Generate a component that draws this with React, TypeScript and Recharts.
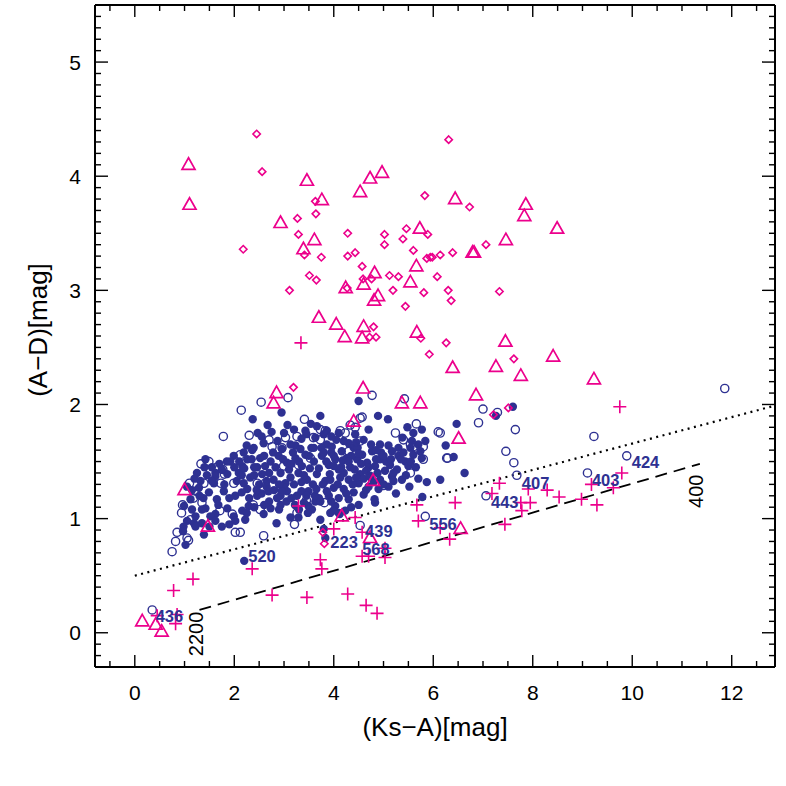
import { ScatterChart, Scatter, XAxis, YAxis, ReferenceLine, Label } from 'recharts'

const NAVY = '#2e3192'
const MAGENTA = '#ec008c'
const FONT = '"Liberation Sans", Arial, sans-serif'

type Pt = [number, number]

// navy filled circles (the main cloud)
const filledCircles: Pt[] = [
  [2.95, 1.93], [2.37, 1.87], [2.67, 1.82], [3.07, 1.82], [3.73, 1.9], [3.54, 1.83], [3.43, 1.77], [3.66, 1.81], [3.86, 1.77],
  [4.5, 2.03], [4.89, 1.9], [5.09, 1.87], [6.47, 1.83], [5.48, 1.8], [5.6, 1.75], [5.77, 1.78], [7.26, 1.9], [7.6, 1.98],
  [2.47, 1.75], [2.87, 1.68], [3.23, 1.64], [3.45, 1.74], [3.63, 1.71], [3.8, 1.74], [3.13, 1.65], [3.33, 1.61], [3.86, 1.65],
  [3.6, 1.62], [2.59, 1.66], [2.39, 1.62], [2.96, 1.61], [2.19, 1.58],
  [4.1, 1.75], [4.43, 1.74], [4.6, 1.69], [4.7, 1.78], [4.3, 1.66], [5.38, 1.71], [5.57, 1.68], [5.7, 1.65], [5.84, 1.68], [6.25, 1.64],
  [2.36, 1.6], [1.99, 1.55], [1.42, 1.52], [1.92, 1.5], [2.26, 1.52], [2.52, 1.53], [2.73, 1.5], [2.89, 1.55], [3.06, 1.49],
  [3.23, 1.53], [3.43, 1.56], [3.6, 1.5], [3.76, 1.55], [3.9, 1.47], [2.16, 1.46], [2.46, 1.45], [3.36, 1.46],
  [4.93, 1.65], [5.17, 1.59], [5.1, 1.64], [5.3, 1.55], [5.44, 1.5], [5.6, 1.56], [5.54, 1.62], [5.74, 1.59], [5.77, 1.53],
  [3.96, 1.63], [4.16, 1.59], [4.4, 1.62], [4.57, 1.56], [4.77, 1.59], [4.93, 1.52], [5.13, 1.47], [5.27, 1.43], [5.5, 1.46],
  [1.62, 1.4], [1.32, 1.33], [1.59, 1.31], [1.86, 1.39], [2.09, 1.4], [2.32, 1.36], [2.56, 1.39], [2.79, 1.34], [2.93, 1.4],
  [3.13, 1.36], [3.29, 1.4], [3.46, 1.34], [3.66, 1.39], [3.83, 1.33], [2.19, 1.31], [3.03, 1.31], [1.62, 1.37], [1.75, 1.43],
  [5.37, 1.34], [5.17, 1.37], [5.03, 1.42], [4.83, 1.46], [4.67, 1.49], [4.47, 1.52], [4.26, 1.53], [4.03, 1.52],
  [4.1, 1.43], [4.33, 1.45], [4.53, 1.39], [4.73, 1.37], [4.93, 1.34], [5.1, 1.28], [4.9, 1.26], [4.7, 1.28], [4.5, 1.31],
  [4.3, 1.34], [4.13, 1.36], [3.93, 1.34], [4.0, 1.27], [4.2, 1.26], [4.4, 1.23], [4.6, 1.21], [4.1, 1.18], [3.9, 1.2],
  [1.29, 1.27], [1.49, 1.23], [1.79, 1.24], [2.02, 1.2], [2.26, 1.26], [2.46, 1.2], [2.69, 1.24], [2.86, 1.18], [3.06, 1.24],
  [3.26, 1.2], [3.49, 1.24], [3.7, 1.18], [3.86, 1.24], [1.12, 1.17], [1.65, 1.17], [2.93, 1.2],
  [4.3, 1.17], [4.82, 1.17], [5.25, 1.22], [4.5, 1.12], [4.03, 1.11], [4.23, 1.07], [3.93, 1.05], [4.1, 1.05],
  [5.87, 1.32], [6.14, 1.34], [5.78, 1.19], [6.63, 1.4], [6.41, 1.54],
  [0.99, 1.11], [1.42, 1.09], [1.62, 1.04], [1.86, 1.09], [2.16, 1.07], [2.29, 1.11], [2.73, 1.09], [2.93, 1.12], [3.13, 1.01],
  [3.29, 1.01], [3.73, 0.99], [3.56, 1.08], [2.59, 1.04], [1.99, 1.02], [3.49, 1.11], [3.63, 1.15], [3.99, 1.07], [4.12, 1.04],
  [4.83, 1.14], [3.73, 1.15], [3.8, 0.91],
  [1.75, 0.93], [1.19, 0.96], [1.39, 0.86], [3.83, 0.83], [2.22, 0.99], [1.02, 0.77], [1.15, 1.08], [1.05, 0.98], [0.98, 0.93],
  [1.22, 1.02], [1.35, 1.08], [1.52, 1.02], [0.97, 0.89], [1.22, 0.93], [1.35, 0.96], [1.62, 0.98], [2.02, 0.98], [2.85, 0.96],
  [2.2, 0.63],
  [2.1, 1.5], [2.2, 1.44], [2.35, 1.52], [2.4, 1.38], [2.5, 1.3], [2.62, 1.46], [2.65, 1.33], [2.78, 1.58], [2.83, 1.45],
  [2.98, 1.52], [3.0, 1.27], [3.1, 1.43], [3.18, 1.58], [3.2, 1.3], [3.3, 1.5], [3.35, 1.24], [3.4, 1.38], [3.5, 1.55],
  [3.52, 1.44], [3.58, 1.3], [3.62, 1.2], [3.7, 1.44], [3.75, 1.62], [3.78, 1.3], [3.85, 1.5], [3.92, 1.39], [3.95, 1.58],
  [4.0, 1.46], [4.05, 1.69], [4.08, 1.3], [4.18, 1.51], [4.2, 1.4], [4.25, 1.22], [4.35, 1.55], [4.38, 1.3], [4.42, 1.43],
  [4.48, 1.62], [4.55, 1.48], [4.6, 1.35], [4.65, 1.25], [4.7, 1.45], [4.75, 1.65], [4.85, 1.52], [4.88, 1.4], [4.95, 1.58],
  [5.0, 1.3], [5.05, 1.5], [5.2, 1.4], [5.35, 1.52], [5.45, 1.38], [5.52, 1.28], [5.65, 1.45], [5.7, 1.35],
  [2.05, 1.33], [2.15, 1.23], [2.3, 1.18], [2.55, 1.22], [2.7, 1.15], [2.9, 1.08], [3.05, 1.15], [3.22, 1.12], [3.4, 1.14],
  [3.48, 1.05], [2.4, 1.1], [2.6, 1.55], [2.8, 1.25], [1.7, 1.48], [1.55, 1.45], [1.8, 1.3], [1.9, 1.18], [1.68, 1.12],
  [1.45, 1.38], [1.38, 1.18], [1.25, 1.4], [1.15, 1.25], [1.05, 1.28],
  [2.25, 1.64], [2.55, 1.72], [2.75, 1.76], [3.0, 1.75], [3.2, 1.78], [3.35, 1.7], [3.95, 1.72], [4.2, 1.68], [4.45, 1.67],
  [2.15, 1.38], [2.4, 1.45], [2.7, 1.4], [2.9, 1.3], [3.15, 1.48], [3.35, 1.32], [3.55, 1.62], [3.65, 1.26], [3.8, 1.58],
  [4.0, 1.55], [4.15, 1.45], [4.3, 1.5], [4.45, 1.36], [4.5, 1.57], [4.65, 1.42], [4.8, 1.32], [4.85, 1.6], [5.0, 1.55],
  [5.15, 1.52], [5.2, 1.33], [5.3, 1.62], [5.4, 1.58], [5.55, 1.5], [2.0, 1.45], [1.85, 1.5], [1.55, 1.33], [1.4, 1.45],
  [1.3, 1.2], [1.2, 1.35], [2.45, 1.25], [2.65, 1.28], [2.95, 1.24], [3.15, 1.18], [3.45, 1.2], [3.95, 1.15], [4.35, 1.1],
  [2.25, 1.05], [2.6, 1.12], [3.3, 1.08], [1.9, 0.95], [1.5, 0.93],
]

// navy open circles
const openCircles: Pt[] = [
  [7.0, 1.96], [7.29, 1.93], [6.91, 1.84], [7.65, 1.78], [6.14, 1.75], [7.46, 1.59], [7.62, 1.49], [7.68, 1.38], [6.29, 1.53],
  [9.23, 1.72], [9.89, 1.55], [9.1, 1.4], [7.06, 1.2], [11.86, 2.14],
  [5.84, 1.02], [4.53, 0.94], [3.81, 1.14],
  [0.35, 0.2], [0.75, 0.71], [0.82, 0.8], [0.85, 0.88], [1.08, 0.81], [2.02, 0.88], [2.12, 0.88], [2.59, 0.85], [3.21, 0.95],
  [2.54, 2.02], [3.08, 2.06], [2.14, 1.95], [1.78, 1.72], [3.41, 1.87], [2.3, 1.73], [2.7, 1.69], [3.03, 1.71], [3.26, 1.72],
  [2.12, 1.56], [1.33, 1.48], [1.49, 1.5], [1.65, 1.45], [1.77, 1.43], [1.8, 1.39], [1.1, 1.31], [1.73, 1.31], [1.99, 1.31],
  [2.62, 1.31], [2.76, 1.63], [2.96, 1.62], [1.18, 1.18], [1.35, 1.14], [1.71, 1.07], [1.96, 1.04], [1.05, 0.83],
  [2.38, 1.12], [2.52, 1.08], [3.45, 1.16], [3.26, 1.05], [2.99, 1.46], [3.29, 1.47], [3.53, 1.53], [2.46, 1.31], [2.56, 1.27],
  [3.59, 1.71], [3.73, 1.69],
  [4.77, 2.08], [5.42, 2.05], [4.53, 1.88], [4.13, 1.77], [4.23, 1.75], [5.66, 1.83], [5.24, 1.75], [6.1, 1.76], [5.8, 1.63],
  [6.27, 1.53], [4.53, 1.68], [4.73, 1.37], [5.0, 1.29], [5.6, 1.63], [5.67, 1.61], [5.4, 1.69], [5.54, 1.65], [3.73, 1.78],
  [3.83, 1.77], [4.33, 1.82], [4.43, 1.8], [4.57, 1.89], [5.8, 1.52], [5.54, 1.4], [4.3, 1.59], [4.77, 1.42],
  [0.96, 1.12], [0.94, 1.05], [1.12, 0.99], [1.22, 1.24], [1.39, 1.31],
]

// magenta open triangles
const triangles: Pt[] = [
  [1.08, 4.1], [1.1, 3.75], [3.46, 3.96], [4.73, 3.98], [4.97, 4.03], [4.53, 3.86], [3.76, 3.79], [2.93, 3.59], [3.61, 3.44],
  [3.39, 3.36], [4.82, 3.15], [4.24, 3.02], [4.6, 3.05], [4.89, 2.95], [4.81, 2.91], [3.7, 2.76], [4.05, 2.7], [4.6, 2.68],
  [4.22, 2.59], [4.57, 2.58], [2.85, 2.1], [4.59, 2.14],
  [6.44, 3.8], [7.86, 3.75], [7.83, 3.65], [5.73, 3.54], [8.49, 3.54], [7.46, 3.44], [6.79, 3.33], [6.82, 3.33], [5.66, 3.21],
  [5.54, 3.07], [5.67, 2.63], [7.45, 2.55], [8.41, 2.42], [6.39, 2.32], [7.26, 2.33], [7.76, 2.25], [9.23, 2.22], [6.86, 2.08],
  [2.79, 2.01], [5.37, 2.01], [5.74, 2.01], [4.4, 1.85], [4.79, 1.33], [4.16, 1.02],
  [6.51, 1.7], [6.55, 0.91], [1.0, 1.25], [1.47, 0.93], [0.15, 0.1], [0.42, 0.07], [0.54, 0.01], [4.73, 0.83],
]

// magenta open diamonds
const diamonds: Pt[] = [
  [2.45, 4.37], [2.56, 4.04], [3.63, 3.78], [3.64, 3.67], [3.27, 3.63], [3.29, 3.49], [2.18, 3.36], [3.41, 3.31], [3.75, 3.29],
  [4.28, 3.5], [5.02, 3.49], [5.02, 3.4], [4.28, 3.3], [4.43, 3.33], [4.57, 3.21], [3.51, 3.13], [3.65, 3.09], [3.11, 3.0],
  [4.59, 3.1], [4.76, 3.1], [5.12, 3.13], [5.3, 3.12], [5.19, 3.0], [4.27, 3.02], [4.8, 2.68], [4.72, 2.59], [4.85, 2.59],
  [3.19, 2.15],
  [6.31, 4.32], [5.83, 3.83], [6.73, 3.73], [5.46, 3.54], [5.89, 3.49], [5.39, 3.45], [5.6, 3.35], [5.87, 3.28], [5.94, 3.29],
  [5.98, 3.29], [6.14, 3.31], [6.39, 3.33], [7.06, 3.4], [6.08, 3.12], [5.81, 2.98], [6.3, 3.0], [6.36, 2.91], [5.44, 2.86],
  [7.33, 2.99], [5.75, 2.58], [6.26, 2.54], [5.92, 2.44], [7.62, 2.4],
  [7.21, 1.91], [7.51, 1.97], [3.78, 0.88], [3.81, 0.78],
]

// magenta plus signs
const crosses: Pt[] = [
  [3.34, 2.54], [9.75, 1.98], [7.33, 1.31], [7.18, 1.22], [6.44, 1.14], [7.91, 1.26], [8.29, 1.25], [8.53, 1.19], [7.76, 1.14],
  [7.95, 1.14], [7.78, 1.07], [8.98, 1.17], [9.29, 1.12], [9.18, 1.3], [9.62, 1.27], [9.79, 1.4], [7.44, 0.95], [6.33, 0.82],
  [5.67, 1.12], [4.43, 1.01], [4.0, 0.91], [5.7, 0.98], [6.14, 0.92], [4.57, 0.88], [3.73, 0.64], [3.76, 0.56], [4.57, 0.67],
  [4.7, 0.67], [5.03, 0.66], [5.03, 0.74], [3.46, 0.31], [4.28, 0.34], [4.65, 0.24], [4.87, 0.17],
  [2.36, 0.56], [1.17, 0.47], [0.78, 0.37], [2.76, 0.33], [0.45, 0.15], [0.85, 0.16], [0.82, 0.08], [3.29, 1.11],
]

// source id labels (left edge / baseline of text)
const idNames = ['436', '520', '223', '439', '568', '556', '443', '407', '403', '424']
const idX = [0.42, 2.28, 3.93, 4.63, 4.57, 5.92, 7.16, 7.78, 9.19, 9.99]
const idY = [0.09, 0.62, 0.74, 0.84, 0.68, 0.9, 1.09, 1.26, 1.29, 1.44]

// model line end labels (text centre)
const modelNames = ['2200', '400']
const modelX = [1.22, 11.28]
const modelY = [-0.01, 1.24]

const dottedLine: Pt[] = [[0, 0.5], [12.87, 1.99]]
const dashedLine: Pt[] = [[1.3, 0.2], [11.36, 1.48]]

const xDomain: Pt = [-0.8, 12.87]
const yDomain: Pt = [-0.3, 5.5]
const xMajor = [0, 2, 4, 6, 8, 10, 12]
const yMajor = [0, 1, 2, 3, 4, 5]

const xTicks: number[] = []
for (let i = -1; i <= 25; i++) xTicks.push(i / 2)
const yTicks: number[] = []
for (let i = -2; i <= 54; i++) yTicks.push(i / 10)

const toObj = (pts: Pt[]) => pts.map(([x, y]) => ({ x, y }))
const idData = idNames.map((label, i) => ({ x: idX[i], y: idY[i], label }))
const modelData = modelNames.map((label, i) => ({ x: modelX[i], y: modelY[i], label }))

const isMajor = (v: number, list: number[]) => list.some(m => Math.abs(m - v) < 1e-6)

function BottomTick({ x, y, payload }: any) {
  const major = isMajor(payload.value, xMajor)
  return (
    <g>
      <line x1={x} x2={x} y1={y} y2={y - (major ? 12 : 6)} stroke="#000" strokeWidth={1.4} />
      {major && (
        <text x={x} y={y + 33} textAnchor="middle" fontSize={21} fontFamily={FONT} fill="#000">{payload.value}</text>
      )}
    </g>
  )
}

function TopTick({ x, y, payload }: any) {
  const major = isMajor(payload.value, xMajor)
  return <line x1={x} x2={x} y1={y} y2={y + (major ? 12 : 6)} stroke="#000" strokeWidth={1.4} />
}

function LeftTick({ x, y, payload }: any) {
  const major = isMajor(payload.value, yMajor)
  return (
    <g>
      <line x1={x} x2={x + (major ? 13 : 6)} y1={y} y2={y} stroke="#000" strokeWidth={1.4} />
      {major && (
        <text x={x - 20} y={y + 7.5} textAnchor="middle" fontSize={21} fontFamily={FONT} fill="#000">{payload.value}</text>
      )}
    </g>
  )
}

function RightTick({ x, y, payload }: any) {
  const major = isMajor(payload.value, yMajor)
  return <line x1={x} x2={x - (major ? 13 : 6)} y1={y} y2={y} stroke="#000" strokeWidth={1.4} />
}

function XTitle({ viewBox }: any) {
  const cx = viewBox ? viewBox.x + viewBox.width / 2 : 435
  const top = viewBox ? viewBox.y : 667
  return (
    <text x={cx} y={top + 69} textAnchor="middle" fontSize={26} fontFamily={FONT} fill="#000">(Ks−A)[mag]</text>
  )
}

function YTitle({ viewBox }: any) {
  const left = viewBox ? viewBox.x : 0
  const cy = viewBox ? viewBox.y + viewBox.height / 2 - 6 : 330
  const cx = left + 38
  return (
    <text x={cx} y={cy} dy="0.35em" transform={`rotate(-90 ${cx} ${cy})`} textAnchor="middle" fontSize={26} fontFamily={FONT} fill="#000">
      (A−D)[mag]
    </text>
  )
}

const FilledDot = ({ cx, cy }: any) => <circle cx={cx} cy={cy} r={4.2} fill={NAVY} />
const OpenDot = ({ cx, cy }: any) => <circle cx={cx} cy={cy} r={4.1} fill="none" stroke={NAVY} strokeWidth={1.4} />
const Triangle = ({ cx, cy }: any) => (
  <path d={`M${cx},${cy - 7} L${cx + 6.5},${cy + 4.5} L${cx - 6.5},${cy + 4.5} Z`} fill="none" stroke={MAGENTA} strokeWidth={1.7} />
)
const Diamond = ({ cx, cy }: any) => (
  <path d={`M${cx},${cy - 3.7} L${cx + 3.7},${cy} L${cx},${cy + 3.7} L${cx - 3.7},${cy} Z`} fill="none" stroke={MAGENTA} strokeWidth={1.6} />
)
const Cross = ({ cx, cy }: any) => (
  <path d={`M${cx - 6.5},${cy} L${cx + 6.5},${cy} M${cx},${cy - 6.5} L${cx},${cy + 6.5}`} stroke={MAGENTA} strokeWidth={1.6} />
)
const IdText = ({ cx, cy, payload }: any) => (
  <text x={cx} y={cy} fontSize={16.5} fontWeight="bold" fontFamily={FONT} fill={NAVY}>{payload.label}</text>
)
const ModelText = ({ cx, cy, payload }: any) => (
  <text x={cx} y={cy} dy="0.36em" transform={`rotate(-90 ${cx} ${cy})`} textAnchor="middle" fontSize={20} fontFamily={FONT} fill="#000">
    {payload.label}
  </text>
)
const Nothing = () => <g />

const axisLine = { stroke: '#000', strokeWidth: 2 }

export default function App() {
  return (
    <div style={{ position: 'absolute', left: 0, top: 0, width: 786, height: 786, background: '#fff' }}>
      <ScatterChart width={786} height={786} margin={{ top: 4, right: 10, bottom: 0, left: 0 }}>
        <XAxis xAxisId="b" type="number" dataKey="x" domain={xDomain} allowDataOverflow ticks={xTicks} interval={0}
          orientation="bottom" height={119} tickSize={0} tickMargin={0} tickLine={false} axisLine={axisLine} tick={<BottomTick />}>
          <Label content={<XTitle />} />
        </XAxis>
        <XAxis xAxisId="t" type="number" dataKey="x" domain={xDomain} allowDataOverflow ticks={xTicks} interval={0}
          orientation="top" height={1} tickSize={0} tickMargin={0} tickLine={false} axisLine={axisLine} tick={<TopTick />} />
        <YAxis yAxisId="l" type="number" dataKey="y" domain={yDomain} allowDataOverflow ticks={yTicks} interval={0}
          orientation="left" width={95} tickSize={0} tickMargin={0} tickLine={false} axisLine={axisLine} tick={<LeftTick />}>
          <Label content={<YTitle />} />
        </YAxis>
        <YAxis yAxisId="r" type="number" dataKey="y" domain={yDomain} allowDataOverflow ticks={yTicks} interval={0}
          orientation="right" width={1} tickSize={0} tickMargin={0} tickLine={false} axisLine={axisLine} tick={<RightTick />} />

        <ReferenceLine xAxisId="b" yAxisId="l" ifOverflow="visible"
          segment={[{ x: dottedLine[0][0], y: dottedLine[0][1] }, { x: dottedLine[1][0], y: dottedLine[1][1] }]}
          stroke="#000" strokeWidth={2.2} strokeDasharray="2 4.5" />
        <ReferenceLine xAxisId="b" yAxisId="l" ifOverflow="visible"
          segment={[{ x: dashedLine[0][0], y: dashedLine[0][1] }, { x: dashedLine[1][0], y: dashedLine[1][1] }]}
          stroke="#000" strokeWidth={1.8} strokeDasharray="12 7" />

        {/* invisible series so the top and right frame axes are drawn */}
        <Scatter xAxisId="t" yAxisId="r" data={toObj(dottedLine)} shape={<Nothing />} isAnimationActive={false} />

        <Scatter xAxisId="b" yAxisId="l" data={toObj(filledCircles)} shape={<FilledDot />} isAnimationActive={false} />
        <Scatter xAxisId="b" yAxisId="l" data={toObj(openCircles)} shape={<OpenDot />} isAnimationActive={false} />
        <Scatter xAxisId="b" yAxisId="l" data={toObj(crosses)} shape={<Cross />} isAnimationActive={false} />
        <Scatter xAxisId="b" yAxisId="l" data={toObj(triangles)} shape={<Triangle />} isAnimationActive={false} />
        <Scatter xAxisId="b" yAxisId="l" data={toObj(diamonds)} shape={<Diamond />} isAnimationActive={false} />
        <Scatter xAxisId="b" yAxisId="l" data={idData} shape={<IdText />} isAnimationActive={false} />
        <Scatter xAxisId="b" yAxisId="l" data={modelData} shape={<ModelText />} isAnimationActive={false} />
      </ScatterChart>
    </div>
  )
}
